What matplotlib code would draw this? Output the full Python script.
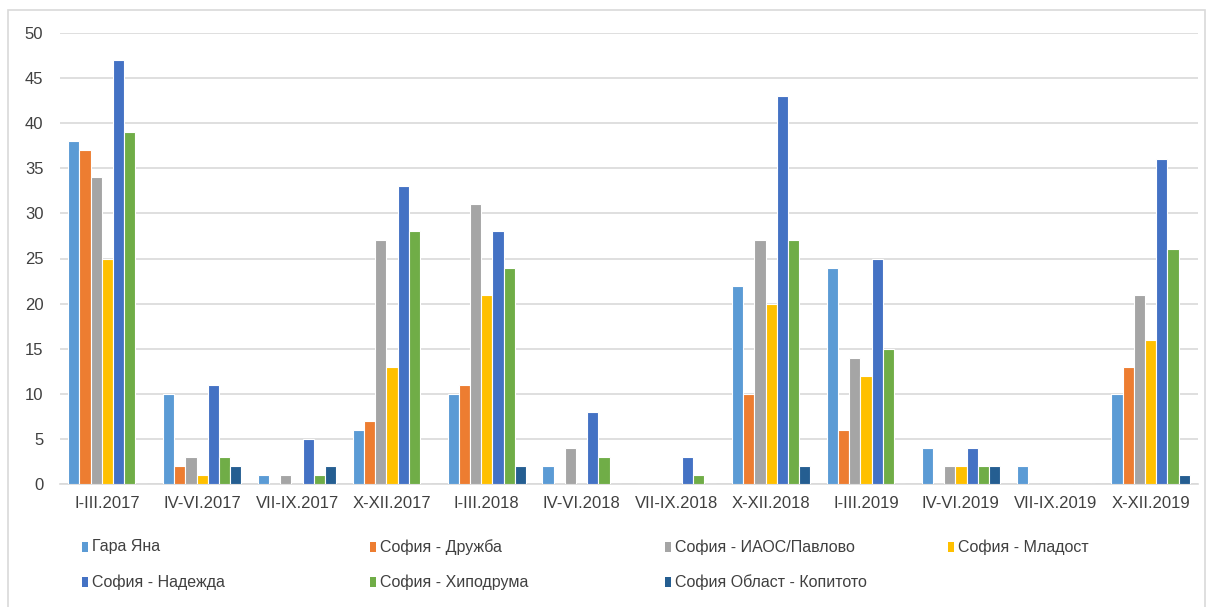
import numpy as np
import matplotlib.pyplot as plt
from matplotlib.patches import Rectangle

categories = ['I-III.2017', 'IV-VI.2017', 'VII-IX.2017', 'X-XII.2017',
              'I-III.2018', 'IV-VI.2018', 'VII-IX.2018', 'X-XII.2018',
              'I-III.2019', 'IV-VI.2019', 'VII-IX.2019', 'X-XII.2019']

stations = ['Гара Яна', 'София - Дружба', 'София - ИАОС/Павлово', 'София - Младост',
            'София - Надежда', 'София - Хиподрума', 'София Област - Копитото']

gara_yana = [38, 10, 1, 6, 10, 2, 0, 22, 24, 4, 2, 10]
druzhba = [37, 2, 0, 7, 11, 0, 0, 10, 6, 0, 0, 13]
iaos_pavlovo = [34, 3, 1, 27, 31, 4, 0, 27, 14, 2, 0, 21]
mladost = [25, 1, 0, 13, 21, 0, 0, 20, 12, 2, 0, 16]
nadezhda = [47, 11, 5, 33, 28, 8, 3, 43, 25, 4, 0, 36]
hipodruma = [39, 3, 1, 28, 24, 3, 1, 27, 15, 2, 0, 26]
kopitoto = [0, 2, 2, 0, 2, 0, 0, 2, 0, 2, 0, 1]

series = [gara_yana, druzhba, iaos_pavlovo, mladost, nadezhda, hipodruma, kopitoto]
colors = ['#5B9BD5', '#ED7D31', '#A5A5A5', '#FFC000', '#4472C4', '#70AD47', '#255E91']

plt.rcParams['font.family'] = ['Liberation Sans', 'DejaVu Sans']

W, H = 1211, 607
fig = plt.figure(figsize=(W / 100, H / 100), dpi=100)
ax = fig.add_axes([60 / W, 1 - 484 / H, (1198 - 60) / W, (484 - 33) / H])

# outer chart border
fig.patches.append(Rectangle((8 / W, -0.01), (1205 - 8) / W, 1 - 10 / H + 0.01,
                             transform=fig.transFigure, fill=False,
                             edgecolor='#d9d9d9', linewidth=1.2))

x = np.arange(len(categories))
slot = 0.118
n = len(series)
for i, (vals, c) in enumerate(zip(series, colors)):
    off = (i - (n - 1) / 2) * slot
    ax.bar(x + off, vals, width=slot, color=c, edgecolor='white', linewidth=0.8, zorder=3)

ax.set_xlim(-0.5, len(categories) - 0.5)
ax.set_ylim(0, 50)
ax.set_yticks(range(0, 51, 5))
ax.set_xticks(x)
ax.set_xticklabels(categories)
ax.grid(axis='y', color='#d9d9d9', linewidth=1.2, zorder=0)
for s in ['top', 'right', 'left']:
    ax.spines[s].set_visible(False)
ax.spines['bottom'].set_color('#d9d9d9')
ax.spines['bottom'].set_linewidth(1.2)
ax.tick_params(axis='both', length=0, labelsize=12, colors='#404040')
ax.tick_params(axis='y', pad=12)
ax.tick_params(axis='x', pad=9)

# legend, four evenly spaced columns
col_x = [82, 370, 665, 948]
row_y = [547, 582]
for i, (name, c) in enumerate(zip(stations, colors)):
    cx = col_x[i % 4]
    cy = row_y[i // 4]
    fig.patches.append(Rectangle((cx / W, 1 - (cy + 5) / H), 6 / W, 10 / H,
                                 transform=fig.transFigure, facecolor=c, edgecolor='none'))
    fig.text((cx + 10) / W, 1 - cy / H, name, fontsize=11.5, color='#404040',
             va='center', ha='left')

fig.savefig('out.png', dpi=100)
